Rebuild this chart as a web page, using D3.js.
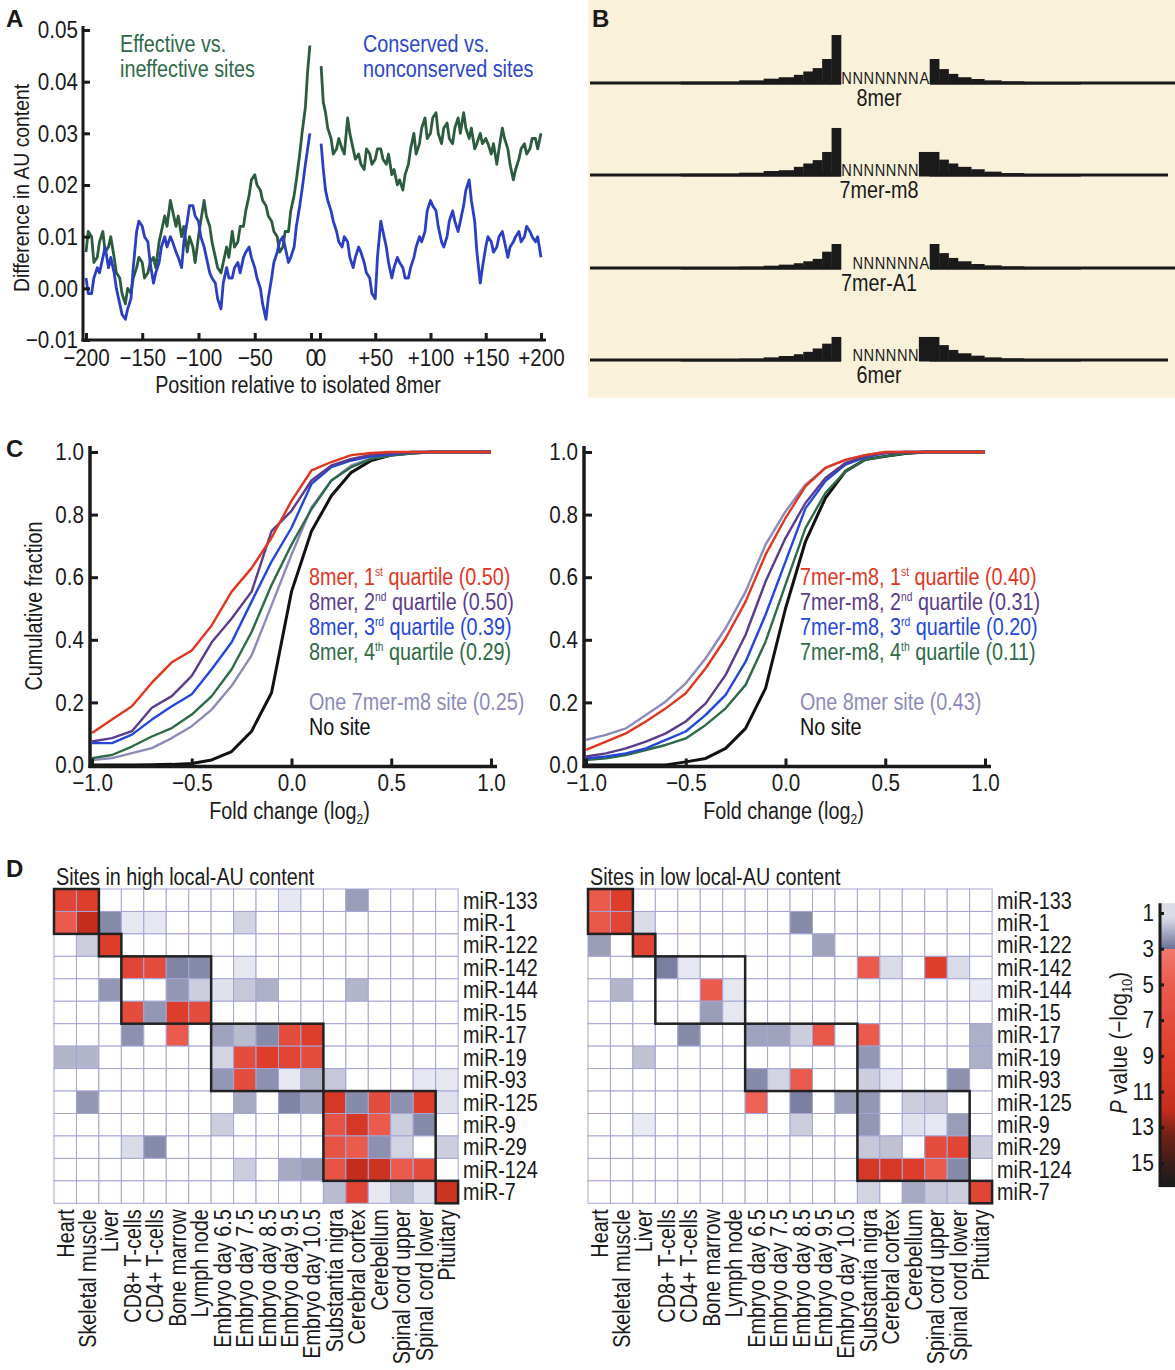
<!DOCTYPE html>
<html>
<head>
<meta charset="utf-8">
<script src="https://cdn.jsdelivr.net/npm/d3@7/dist/d3.min.js"></script>
<style>
  html, body { margin: 0; padding: 0; background: #fff; }
  svg text { font-family: "Liberation Sans", Arial, sans-serif; fill: #1a1a1a; }
  svg text.letter { font-weight: bold; }
</style>
</head>
<body>
<svg id="fig" width="1175" height="1370"></svg>
<script>
// ---------------- Panel A: AU content around isolated 8mer sites ----------------
const positionsUp = [-200,-198,-195,-193,-190,-188,-185,-183,-180,-178,-175,-173,-170,-168,-165,-163,-160,-158,-155,-153,-150,-148,-145,-143,-140,-138,-135,-133,-130,-128,-125,-123,-120,-118,-115,-113,-110,-108,-105,-103,-100,-98,-95,-93,-90,-88,-85,-83,-80,-78,-75,-73,-70,-68,-65,-63,-60,-58,-55,-53,-50,-48,-45,-43,-40,-38,-35,-33,-30,-28,-25,-23,-20,-18,-15,-13,-10,-8,-5,-3,-1];
const positionsDown = [1,3,5,7,10,12,15,17,20,22,25,27,30,32,35,37,40,42,45,47,50,52,55,57,60,62,65,67,70,72,75,77,80,82,85,87,90,92,95,97,100,102,105,107,110,112,115,117,120,122,125,127,130,132,135,137,140,142,145,147,150,152,155,157,160,162,165,167,170,172,175,177,180,182,185,187,190,192,195,197,200];
const effectiveUp = [0.007,0.011,0.010,0.005,0.006,0.009,0.011,0.007,0.008,0.010,0.006,0.003,0.002,-0.001,-0.003,0.000,-0.001,0.002,0.004,0.006,0.005,0.002,0.003,0.005,0.006,0.004,0.009,0.011,0.014,0.012,0.017,0.015,0.012,0.014,0.010,0.012,0.007,0.010,0.008,0.005,0.010,0.013,0.017,0.014,0.012,0.009,0.006,0.004,0.003,0.005,0.008,0.006,0.011,0.008,0.009,0.012,0.012,0.015,0.018,0.021,0.022,0.020,0.019,0.017,0.016,0.014,0.013,0.011,0.010,0.007,0.008,0.011,0.011,0.015,0.018,0.021,0.026,0.030,0.035,0.042,0.047];
const effectiveDown = [0.043,0.036,0.034,0.031,0.029,0.026,0.027,0.029,0.027,0.026,0.033,0.030,0.027,0.025,0.026,0.024,0.023,0.027,0.026,0.024,0.025,0.027,0.027,0.025,0.024,0.026,0.022,0.023,0.020,0.021,0.019,0.022,0.024,0.027,0.030,0.026,0.028,0.031,0.033,0.029,0.030,0.033,0.034,0.030,0.028,0.031,0.032,0.029,0.028,0.031,0.033,0.030,0.034,0.031,0.029,0.031,0.027,0.028,0.030,0.028,0.029,0.028,0.026,0.028,0.024,0.027,0.031,0.029,0.027,0.024,0.021,0.023,0.025,0.027,0.028,0.026,0.027,0.029,0.029,0.027,0.030];
const conservedUp = [0.002,-0.001,-0.001,0.002,0.004,0.003,0.006,0.008,0.004,0.006,0.003,0.000,-0.003,-0.005,-0.006,-0.004,-0.002,0.004,0.011,0.013,0.012,0.010,0.009,0.005,0.001,0.003,0.005,0.008,0.010,0.008,0.010,0.009,0.007,0.006,0.004,0.009,0.013,0.016,0.016,0.014,0.013,0.010,0.008,0.006,0.003,0.002,0.001,-0.002,-0.004,0.001,0.004,0.002,0.002,0.004,0.005,0.003,0.006,0.007,0.008,0.006,0.004,0.002,0.000,-0.003,-0.006,-0.002,0.002,0.005,0.007,0.009,0.010,0.008,0.005,0.006,0.008,0.012,0.016,0.019,0.024,0.027,0.030];
const conservedDown = [0.028,0.023,0.019,0.017,0.015,0.013,0.011,0.009,0.008,0.010,0.009,0.006,0.004,0.006,0.008,0.007,0.005,0.003,0.002,-0.001,-0.002,0.006,0.013,0.011,0.008,0.005,0.002,0.004,0.006,0.005,0.004,0.002,0.002,0.004,0.006,0.008,0.010,0.009,0.011,0.015,0.017,0.016,0.015,0.012,0.009,0.008,0.010,0.013,0.015,0.013,0.011,0.013,0.016,0.019,0.021,0.017,0.013,0.007,0.001,0.004,0.008,0.010,0.009,0.007,0.008,0.010,0.011,0.009,0.006,0.008,0.009,0.010,0.011,0.009,0.010,0.012,0.011,0.010,0.009,0.010,0.006];
const auTicks = [-0.01, 0, 0.01, 0.02, 0.03, 0.04, 0.05];
const posTicksUp = [-200, -150, -100, -50, 0];
const posTicksDown = [0, 50, 100, 150, 200];

// ---------------- Panel B: local AU profile per site type ----------------
const siteTypes = ["8mer", "7mer-m8", "7mer-A1", "6mer"];
const siteLetters = ["NNNNNNNA", "NNNNNNN ", " NNNNNNA", " NNNNNN "];   // seed positions 8..1
const upstreamEdges = [0, 1, 2, 3, 4, 5, 6.6, 8.2, 10.8, 17];
const downstreamEdges = [0, 1, 2, 3, 4.4, 5.8, 7.6, 10, 16];
const upstreamAU = [
  [1.00, 0.50, 0.31, 0.24, 0.17, 0.12, 0.09, 0.055, 0.028],
  [0.98, 0.48, 0.31, 0.24, 0.17, 0.10, 0.083, 0.048, 0.028],
  [0.50, 0.34, 0.19, 0.14, 0.10, 0.07, 0.048, 0.028, 0.014],
  [0.48, 0.34, 0.24, 0.17, 0.12, 0.083, 0.055, 0.028, 0.014]
];
const downstreamAU = [
  [0.50, 0.29, 0.19, 0.12, 0.083, 0.055, 0.034, 0.020],
  [0.48, 0.32, 0.24, 0.17, 0.12, 0.07, 0.04, 0.020],
  [0.50, 0.31, 0.21, 0.14, 0.083, 0.055, 0.034, 0.020],
  [0.48, 0.31, 0.21, 0.14, 0.09, 0.055, 0.034, 0.014]
];
const position1AU = [null, 0.48, null, 0.48];   // flank value at position 1 when it is not paired

// ---------------- Panel C: cumulative distributions ----------------
const foldChange = [-1.0,-0.9,-0.8,-0.7,-0.6,-0.5,-0.4,-0.3,-0.2,-0.1,0.0,0.1,0.2,0.3,0.4,0.5,0.6,0.7,0.8,0.9,1.0];
const cdf8merQ1 = [0.102,0.145,0.188,0.263,0.328,0.366,0.446,0.554,0.629,0.726,0.844,0.941,0.968,0.990,0.997,1,1,1,1,1,1];
const cdf8merQ2 = [0.075,0.086,0.108,0.183,0.220,0.285,0.392,0.468,0.554,0.747,0.812,0.909,0.957,0.978,0.991,0.996,1,1,1,1,1];
const cdf8merQ3 = [0.070,0.070,0.097,0.145,0.188,0.226,0.306,0.392,0.522,0.650,0.758,0.898,0.952,0.973,0.986,0.992,1,1,1,1,1];
const cdf8merQ4 = [0.022,0.032,0.059,0.091,0.118,0.161,0.220,0.306,0.425,0.575,0.704,0.817,0.909,0.952,0.978,0.989,0.996,1,1,1,1];
const cdfOne7merM8 = [0.016,0.022,0.038,0.054,0.086,0.124,0.177,0.253,0.350,0.510,0.672,0.823,0.909,0.957,0.980,0.990,0.996,1,1,1,1];
const cdfNoSiteA = [0,0,0,0.001,0.002,0.005,0.016,0.043,0.108,0.231,0.554,0.747,0.860,0.935,0.973,0.990,0.996,1,1,1,1];
const cdf7merQ1 = [0.048,0.075,0.101,0.139,0.181,0.229,0.309,0.405,0.522,0.672,0.789,0.890,0.949,0.975,0.990,1,1,1,1,1,1];
const cdf7merQ2 = [0.027,0.037,0.053,0.075,0.101,0.139,0.197,0.288,0.416,0.586,0.725,0.837,0.917,0.965,0.986,0.996,1,1,1,1,1];
const cdf7merQ3 = [0.021,0.027,0.037,0.053,0.080,0.107,0.160,0.224,0.330,0.480,0.650,0.820,0.907,0.960,0.983,0.997,1,1,1,1,1];
const cdf7merQ4 = [0.016,0.021,0.032,0.048,0.064,0.085,0.128,0.181,0.256,0.394,0.576,0.757,0.869,0.938,0.976,0.986,0.995,1,1,1,1];
const cdfOne8mer = [0.080,0.096,0.117,0.160,0.203,0.261,0.341,0.437,0.554,0.704,0.810,0.896,0.949,0.975,0.990,1,1,1,1,1,1];
const cdfNoSiteB = [0,0,0,0,0,0.010,0.021,0.053,0.117,0.245,0.500,0.714,0.853,0.938,0.976,0.986,0.995,1,1,1,1];
const cdfLabelsLeft = ["8mer, 1|st| quartile (0.50)", "8mer, 2|nd| quartile (0.50)", "8mer, 3|rd| quartile (0.39)", "8mer, 4|th| quartile (0.29)", "One 7mer-m8 site (0.25)", "No site"];
const cdfLabelsRight = ["7mer-m8, 1|st| quartile (0.40)", "7mer-m8, 2|nd| quartile (0.31)", "7mer-m8, 3|rd| quartile (0.20)", "7mer-m8, 4|th| quartile (0.11)", "One 8mer site (0.43)", "No site"];
const cdfTicksX = [-1.0, -0.5, 0.0, 0.5, 1.0];
const cdfTicksY = [0.0, 0.2, 0.4, 0.6, 0.8, 1.0];

// ---------------- Panel D: tissue enrichment heat maps ----------------
const tissues = ["Heart","Skeletal muscle","Liver","CD8+ T-cells","CD4+ T-cells","Bone marrow","Lymph node","Embryo day 6.5","Embryo day 7.5","Embryo day 8.5","Embryo day 9.5","Embryo day 10.5","Substantia nigra","Cerebral cortex","Cerebellum","Spinal cord upper","Spinal cord lower","Pituitary"];
const mirnas = ["miR-133","miR-1","miR-122","miR-142","miR-144","miR-15","miR-17","miR-19","miR-93","miR-125","miR-9","miR-29","miR-124","miR-7"];
const highAU = [
  [8,9,0,0,0,0,0,0,0,0,1.1,0,0,2.3,0,0,0,0],
  [5,12,2.6,1.1,1.1,0,0,0,1.4,0,0,0,0,0,0,0,0,0],
  [0,1.5,9,0,0,0,0,0,0,0,0,0,0,0,0,0,0,0],
  [0,0,0,8,7,2.7,2.6,0,1.1,0,0,0,0,0,0,0,0,0],
  [0,0,2.4,0,0,2.4,1.5,1.2,1.6,2.0,0,0,0,1.9,0,0,0,0],
  [0,0,0,7,2.4,9,7,0,0,0,0,0,0,0,0,0,0,0],
  [0,0,0,2.5,0,5,0,2.2,1.8,2.6,7,9,0,0,0,0,0,0],
  [1.9,1.9,0,0,0,0,0,1.4,7,9,8,7,0,0,0,0,0,0],
  [0,0,0,0,0,0,0,2.4,7,2.5,1.1,2.0,1.6,0,0,0,1.1,1.1],
  [0,2.4,0,0,0,0,0,0,2.1,0,2.7,2.2,10,2.6,7,2.5,9,1.2],
  [0,0,0,0,0,0,0,1.5,0,0,0,0,6,10,5,1.5,2.6,0],
  [0,0,0,1.3,2.6,0,0,0,0,0,0,0,6,5,2.5,1.4,0,1.5],
  [0,0,0,0,0,0,0,0,1.5,0,2.1,2.3,6,12,11,5,7,0],
  [0,0,0,0,0,0,0,0,0,0,0,0,1.8,8,1.1,1.8,1.2,11]
];
const lowAU = [
  [5,9,0,0,0,0,0,0,0,0,0,0,0,0,0,0,0,0],
  [5.5,8,1.3,0,0,0,0,0,0,2.6,0,0,0,0,0,0,0,0],
  [2.3,0,8,0,0,0,0,0,0,0,2.2,0,0,0,0,0,0,0],
  [0,0,0,2.8,1.1,0,0,0,0,0,0,0,5,1.3,0,9,1.3,0],
  [0,1.9,0,0,0,5,1.1,0,0,0,0,0,0,0,0,0,0,1.05],
  [0,0,0,0,0,2.3,1.1,0,0,0,0,0,0,0,0,0,0,0],
  [0,0,0,0,2.6,0,0,2.2,2.2,1.5,5.5,0,5,0,0,0,0,2.0],
  [0,0,1.7,0,0,0,0,0,0,0,0,0,2.4,0,0,0,0,2.0],
  [0,0,0,0,0,0,0,2.6,1.4,5,0,0,1.5,1.1,0,0,2.5,0],
  [0,0,0,0,0,0,0,4.5,0,2.8,0,2.3,2.4,0,1.5,1.6,0,0],
  [0,0,1.05,0,0,0,0,0,0,1.5,0,0,2.4,0,1.2,1.1,2.3,0],
  [0,0,0,0,0,0,0,0,0,0,0,0,1.6,1.7,0,7,8,1.5],
  [0,0,0,0,0,0,0,0,0,0,0,0,10,10,9,5,2.6,0],
  [0,0,0,0,0,0,0,0,0,0,0,0,1.4,0,2.1,1.6,1.5,8]
];
// [first miRNA row, last miRNA row, first tissue, last tissue]
const expressionGroups = [[0,1,0,1],[2,2,2,2],[3,5,3,6],[6,8,7,11],[9,12,12,16],[13,13,17,17]];
const pTicks = [1, 3, 5, 7, 9, 11, 13, 15];

// =====================================================================
const svg = d3.select("#fig");
const INK = "#1a1a1a";
const CONDENSE = 0.86;   // narrow letterforms, as in a condensed grotesque

function styleAxis(g, size) {
  g.select(".domain").remove();
  g.selectAll(".tick line").attr("stroke", INK).attr("stroke-width", 3);
  g.selectAll(".tick text").attr("font-size", size).style("fill", INK);
}
const minus = s => String(s).replace("-", "\u2212");

function panelLetter(t, x, y) {
  svg.append("text").attr("class", "letter").attr("x", x).attr("y", y)
    .attr("font-size", 24).text(t);
}

// ---------------- Panel A ----------------
(function () {
  const g = svg.append("g");
  const y = d3.scaleLinear().domain([-0.01, 0.05]).range([340, 30]);
  const xUp = d3.scaleLinear().domain([-200, 0]).range([86, 311]);
  const xDown = d3.scaleLinear().domain([0, 200]).range([320, 541]);

  const lineUp = d3.line().x((d, i) => xUp(positionsUp[i])).y(d => y(d));
  const lineDown = d3.line().x((d, i) => xDown(positionsDown[i])).y(d => y(d));
  const series = [
    { up: effectiveUp, down: effectiveDown, color: "#2b5c3d" },
    { up: conservedUp, down: conservedDown, color: "#2a3fc2" }
  ];
  series.forEach(s => {
    g.append("path").attr("d", lineUp(s.up)).attr("fill", "none")
      .attr("stroke", s.color).attr("stroke-width", 2.8).attr("stroke-linejoin", "round");
    g.append("path").attr("d", lineDown(s.down)).attr("fill", "none")
      .attr("stroke", s.color).attr("stroke-width", 2.8).attr("stroke-linejoin", "round");
  });

  g.append("line").attr("x1", 83).attr("x2", 83).attr("y1", 26).attr("y2", 341.5)
    .attr("stroke", INK).attr("stroke-width", 3);
  g.append("line").attr("x1", 81.5).attr("x2", 546).attr("y1", 340).attr("y2", 340)
    .attr("stroke", INK).attr("stroke-width", 3);

  g.append("g").attr("transform", "translate(83,0)")
    .call(d3.axisLeft(y).tickValues(auTicks).tickSize(-7).tickPadding(5)
      .tickFormat(d => minus(d3.format(".2f")(d))))
    .call(a => styleAxis(a, 24));
  g.append("g").attr("transform", "translate(0,340)")
    .call(d3.axisBottom(xUp).tickValues(posTicksUp).tickSize(-7).tickPadding(9)
      .tickFormat(d => minus(d)))
    .call(a => styleAxis(a, 24));
  g.append("g").attr("transform", "translate(0,340)")
    .call(d3.axisBottom(xDown).tickValues(posTicksDown).tickSize(-7).tickPadding(9)
      .tickFormat(d => d === 0 ? "0" : "+" + d))
    .call(a => styleAxis(a, 24));

  g.append("text").attr("transform", "translate(29,188) rotate(-90)")
    .attr("text-anchor", "middle").attr("font-size", 22.5).text("Difference in AU content");
  g.append("text").attr("x", 298).attr("y", 393).attr("text-anchor", "middle")
    .attr("font-size", 23).text("Position relative to isolated 8mer");

  const leg = [
    { x: 120, lines: ["Effective vs.", "ineffective sites"], color: "#2e6a47" },
    { x: 363, lines: ["Conserved vs.", "nonconserved sites"], color: "#2b47c9" }
  ];
  leg.forEach(l => l.lines.forEach((t, i) => {
    g.append("text").attr("x", l.x).attr("y", 52 + i * 25).attr("font-size", 23)
      .style("fill", l.color).text(t);
  }));
  panelLetter("A", 6, 27);
})();

// ---------------- Panel B ----------------
(function () {
  const g = svg.append("g");
  g.append("rect").attr("x", 588).attr("y", 0).attr("width", 587).attr("height", 398)
    .attr("fill", "#f9f1da");
  const unit = 9.43;
  const siteLeft = 841, siteRight = 930, slot = (siteRight - siteLeft) / 8;
  const xUpB = d3.scaleLinear().domain([0, 17]).range([siteLeft, siteLeft - 17 * unit]);
  const xDownB = d3.scaleLinear().domain([0, 16]).range([siteRight, siteRight + 16 * unit]);
  const h = d3.scaleLinear().domain([0, 1]).range([0, 48]);
  const baselines = [83, 175, 268, 360];
  const lineEnds = [1175, 1168, 1175, 1168];

  siteTypes.forEach((name, r) => {
    const yb = baselines[r];
    g.append("line").attr("x1", 590).attr("x2", siteLeft).attr("y1", yb).attr("y2", yb)
      .attr("stroke", INK).attr("stroke-width", 3);
    g.append("line").attr("x1", siteRight).attr("x2", lineEnds[r]).attr("y1", yb).attr("y2", yb)
      .attr("stroke", INK).attr("stroke-width", 3);
    upstreamAU[r].forEach((v, i) => {
      const x1 = xUpB(upstreamEdges[i]), x0 = xUpB(upstreamEdges[i + 1]);
      g.append("rect").attr("x", x0).attr("width", x1 - x0 + 0.3)
        .attr("y", yb - h(v)).attr("height", h(v) + 1.5).attr("fill", INK);
    });
    downstreamAU[r].forEach((v, i) => {
      const x0 = xDownB(downstreamEdges[i]), x1 = xDownB(downstreamEdges[i + 1]);
      g.append("rect").attr("x", x0 - 0.3).attr("width", x1 - x0 + 0.3)
        .attr("y", yb - h(v)).attr("height", h(v) + 1.5).attr("fill", INK);
    });
    if (position1AU[r] !== null) {
      const v = position1AU[r];
      g.append("rect").attr("x", siteRight - slot).attr("width", slot + 0.5)
        .attr("y", yb - h(v)).attr("height", h(v) + 1.5).attr("fill", INK);
    }
    siteLetters[r].split("").forEach((c, i) => {
      if (c === " ") return;
      g.append("text").attr("x", siteLeft + slot * (i + 0.5)).attr("y", yb + 1)
        .attr("text-anchor", "middle").attr("font-size", 17).text(c);
    });
    g.append("text").attr("x", 879).attr("y", yb + 23).attr("text-anchor", "middle")
      .attr("font-size", 23).text(name);
  });
  panelLetter("B", 592, 27);
})();

// ---------------- Panel C ----------------
function drawCdf(x0, series, labels, legendX) {
  const g = svg.append("g");
  const axisX = x0 - 2;
  const x = d3.scaleLinear().domain([-1, 1]).range([x0, x0 + 399]);
  const y = d3.scaleLinear().domain([0, 1]).range([765, 452]);
  const line = d3.line().x((d, i) => x(foldChange[i])).y(d => y(d));
  series.slice().reverse().forEach(s => {
    g.append("path").attr("d", line(s.values)).attr("fill", "none")
      .attr("stroke", s.color).attr("stroke-width", s.width || 2.4).attr("stroke-linejoin", "round");
  });
  g.append("line").attr("x1", axisX).attr("x2", axisX).attr("y1", 446).attr("y2", 768)
    .attr("stroke", INK).attr("stroke-width", 3.5);
  g.append("line").attr("x1", axisX - 1.5).attr("x2", x0 + 405).attr("y1", 766.5).attr("y2", 766.5)
    .attr("stroke", INK).attr("stroke-width", 3.5);
  g.append("g").attr("transform", `translate(${axisX},0)`)
    .call(d3.axisLeft(y).tickValues(cdfTicksY).tickSize(-8).tickPadding(6).tickFormat(d3.format(".1f")))
    .call(a => styleAxis(a, 24));
  g.append("g").attr("transform", "translate(0,766.5)")
    .call(d3.axisBottom(x).tickValues(cdfTicksX).tickSize(-8).tickPadding(7)
      .tickFormat(d => minus(d3.format(".1f")(d))))
    .call(a => styleAxis(a, 24));

  const t = g.append("text").attr("x", x(0) - 2).attr("y", 819).attr("text-anchor", "middle")
    .attr("font-size", 23);
  t.append("tspan").text("Fold change (log");
  t.append("tspan").attr("font-size", 14).attr("dy", 5).text("2");
  t.append("tspan").attr("dy", -5).text(")");

  const ys = [585, 610, 635, 660, 710, 735];
  labels.forEach((lab, i) => {
    const parts = lab.split("|");
    const tx = g.append("text").attr("x", legendX).attr("y", ys[i]).attr("font-size", 23)
      .style("fill", series[i].color);
    tx.append("tspan").text(parts[0]);
    if (parts.length > 1) {
      tx.append("tspan").attr("font-size", 12).attr("dy", -9).text(parts[1]);
      tx.append("tspan").attr("dy", 9).text(parts[2]);
    }
  });
  return g;
}
const cdfColors = ["#e0361f", "#5b3c8c", "#2447da", "#2e6a47", "#8c8aba", "#111111"];
drawCdf(92, [
  { values: cdf8merQ1, color: cdfColors[0] },
  { values: cdf8merQ2, color: cdfColors[1] },
  { values: cdf8merQ3, color: cdfColors[2] },
  { values: cdf8merQ4, color: cdfColors[3] },
  { values: cdfOne7merM8, color: cdfColors[4] },
  { values: cdfNoSiteA, color: cdfColors[5], width: 3 }
], cdfLabelsLeft, 309);
svg.append("text").attr("transform", "translate(42,606) rotate(-90)").attr("text-anchor", "middle")
  .attr("font-size", 23).text("Cumulative fraction");
drawCdf(586, [
  { values: cdf7merQ1, color: cdfColors[0] },
  { values: cdf7merQ2, color: cdfColors[1] },
  { values: cdf7merQ3, color: cdfColors[2] },
  { values: cdf7merQ4, color: cdfColors[3] },
  { values: cdfOne8mer, color: cdfColors[4] },
  { values: cdfNoSiteB, color: cdfColors[5], width: 3 }
], cdfLabelsRight, 800);
panelLetter("C", 6, 457);

// ---------------- Panel D ----------------
const lowColor = d3.scaleLinear().domain([1, 3]).range(["#ecedf5", "#6d7297"]).clamp(true);
const highColor = d3.scaleLinear().domain([3, 5, 9, 12, 13.5, 16])
  .range(["#f2786c", "#ea5b4e", "#dd3e2c", "#c42d1c", "#6e2016", "#1e1b1b"]).clamp(true);
const pColor = v => v < 1 ? "#ffffff" : (v <= 3 ? lowColor(v) : highColor(v));

function drawHeatmap(x0, matrix, title) {
  const g = svg.append("g");
  const cell = 22.45, y0 = 889;
  const x = d3.scaleBand().domain(d3.range(tissues.length)).range([x0, x0 + cell * tissues.length]);
  const y = d3.scaleBand().domain(d3.range(mirnas.length)).range([y0, y0 + cell * mirnas.length]);
  matrix.forEach((row, r) => row.forEach((v, c) => {
    g.append("rect").attr("x", x(c)).attr("y", y(r)).attr("width", x.bandwidth()).attr("height", y.bandwidth())
      .attr("fill", pColor(v)).attr("stroke", "#a5a4d6").attr("stroke-width", 1);
  }));
  expressionGroups.forEach(([r0, r1, c0, c1]) => {
    g.append("rect").attr("x", x(c0)).attr("y", y(r0))
      .attr("width", x(c1) + x.bandwidth() - x(c0)).attr("height", y(r1) + y.bandwidth() - y(r0))
      .attr("fill", "none").attr("stroke", "#222").attr("stroke-width", 2.5);
  });
  const right = x0 + cell * tissues.length;
  mirnas.forEach((m, r) => {
    g.append("text").attr("x", right + 5).attr("y", y(r) + y.bandwidth() / 2).attr("dy", "0.36em")
      .attr("font-size", 23).text(m);
  });
  const bottom = y0 + cell * mirnas.length;
  tissues.forEach((t, c) => {
    g.append("text").attr("transform", `translate(${x(c) + x.bandwidth() / 2},${bottom + 6}) rotate(-90)`)
      .attr("text-anchor", "end").attr("dy", "0.36em").attr("font-size", 23).text(t);
  });
  g.append("text").attr("x", x0 + 2).attr("y", 885).attr("font-size", 23).text(title);
}
drawHeatmap(54, highAU, "Sites in high local-AU content");
drawHeatmap(588, lowAU, "Sites in low local-AU content");
panelLetter("D", 6, 877);

// colour bar
(function () {
  const yBar = d3.scaleLinear().domain([1, 15]).range([913, 1163]);
  const lo = 0.45, hi = 16.35;
  const grad = svg.append("defs").append("linearGradient").attr("id", "pbar")
    .attr("x1", 0).attr("x2", 0).attr("y1", 0).attr("y2", 1);
  const off = v => (v - lo) / (hi - lo);
  const stops = [];
  d3.range(lo, 3.001, 0.25).forEach(v => stops.push([off(v), lowColor(Math.max(v, 1.3))]));
  stops.push([off(3.0), lowColor(3)]);
  d3.range(3.0, hi + 0.001, 0.25).forEach(v => stops.push([off(v), highColor(v)]));
  stops.forEach(([o, c]) => grad.append("stop").attr("offset", o).attr("stop-color", c));
  svg.append("rect").attr("x", 1160).attr("y", yBar(lo)).attr("width", 20)
    .attr("height", yBar(hi) - yBar(lo)).attr("fill", "url(#pbar)");
  svg.append("line").attr("x1", 1160).attr("x2", 1160).attr("y1", yBar(lo)).attr("y2", yBar(hi))
    .attr("stroke", INK).attr("stroke-width", 3);
  const ax = svg.append("g").attr("transform", "translate(1160,0)")
    .call(d3.axisLeft(yBar).tickValues(pTicks).tickSize(-4).tickPadding(6).tickFormat(d3.format("d")));
  styleAxis(ax, 24);
  const t = svg.append("text").attr("transform", "translate(1127,1043) rotate(-90)")
    .attr("text-anchor", "middle").attr("font-size", 24);
  t.append("tspan").attr("font-style", "italic").text("P");
  t.append("tspan").text(" value (\u2212log");
  t.append("tspan").attr("font-size", 15).attr("dy", 5).text("10");
  t.append("tspan").attr("dy", -5).text(")");
})();

// Narrow every label horizontally about its anchor (panel letters stay full width)
svg.selectAll("text").each(function () {
  if (this.classList.contains("letter")) return;
  const x = parseFloat(this.getAttribute("x")) || 0;
  const squeeze = `translate(${x},0) scale(${CONDENSE},1) translate(${-x},0)`;
  const tr = this.getAttribute("transform");
  this.setAttribute("transform", tr ? tr + " " + squeeze : squeeze);
});
</script>
</body>
</html>
